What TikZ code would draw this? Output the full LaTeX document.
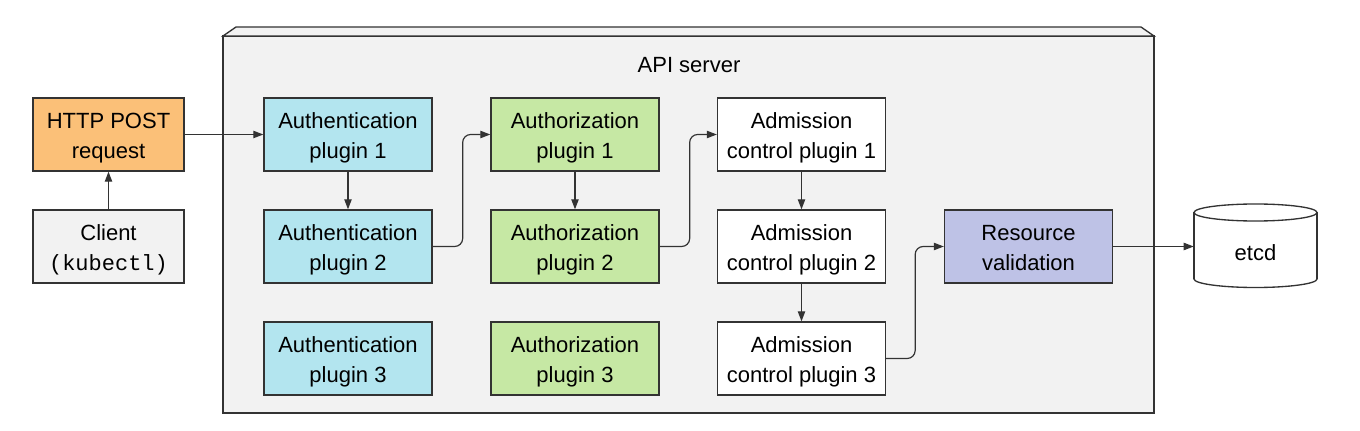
\documentclass[tikz,border=0pt]{standalone}
\usepackage{fontspec}
\setmainfont{Liberation Sans}
\setmonofont{Liberation Mono}
\usepackage{xcolor}
\usepackage{tikz}
\usetikzlibrary{arrows.meta}

\definecolor{linegray}{RGB}{51,51,51}
\definecolor{servergray}{RGB}{242,242,242}
\definecolor{postorange}{RGB}{251,192,120}
\definecolor{authblue}{RGB}{179,229,239}
\definecolor{authzgreen}{RGB}{198,232,164}
\definecolor{validlilac}{RGB}{190,194,230}

\begin{document}
\begin{tikzpicture}[x=0.75pt,y=0.75pt,yscale=-1,
  plugin/.style={draw=linegray,line width=1pt,minimum width=126pt,minimum height=54.75pt,
    align=center,inner sep=0.75pt,text height=39pt,text depth=3.5pt,
    font=\fontsize{16.5}{22.5}\selectfont},
  flow/.style={draw=linegray,line width=0.9pt,-{Triangle[length=7.5pt,width=5.5pt]}},
  elbow/.style={flow,rounded corners=6pt}]
\useasboundingbox (0,0) rectangle (1360,431);

%Shape: API server box
\draw [draw=linegray,line width=1pt,fill=servergray] (223,36) rectangle (1154,413) ;
\draw [draw=linegray,line width=1pt,fill=servergray] (223,36) -- (236,27) -- (1141,27) -- (1154,36) -- cycle ;
% Text Node
\node (server) at (689,65) [font=\fontsize{16.5}{22.5}\selectfont] {API server};

% Client side
\node (post) at (108.5,134.5) [plugin,fill=postorange,minimum width=113.25pt] {HTTP POST\\request};
\node (client) at (108.5,246.5) [plugin,fill=servergray,minimum width=113.25pt] {Client\\\texttt{(kubectl)}};

% Authentication plugins
\node (authn1) at (348,134.5) [plugin,fill=authblue] {Authentication\\plugin 1};
\node (authn2) at (348,246.5) [plugin,fill=authblue] {Authentication\\plugin 2};
\node (authn3) at (348,358.5) [plugin,fill=authblue] {Authentication\\plugin 3};

% Authorization plugins
\node (authz1) at (575,134.5) [plugin,fill=authzgreen] {Authorization\\plugin 1};
\node (authz2) at (575,246.5) [plugin,fill=authzgreen] {Authorization\\plugin 2};
\node (authz3) at (575,358.5) [plugin,fill=authzgreen] {Authorization\\plugin 3};

% Admission control plugins
\node (admit1) at (801.5,134.5) [plugin,fill=white] {Admission\\control plugin 1};
\node (admit2) at (801.5,246.5) [plugin,fill=white] {Admission\\control plugin 2};
\node (admit3) at (801.5,358.5) [plugin,fill=white] {Admission\\control plugin 3};

% Resource validation
\node (valid) at (1028.5,246.5) [plugin,fill=validlilac] {Resource\\validation};

%Shape: etcd cylinder
\draw [draw=linegray,line width=1pt,fill=white] (1255.5,279) ellipse [x radius=61.5,y radius=8.5] ;
\fill [white] (1194,212.5) rectangle (1317,279) ;
\draw [draw=linegray,line width=1pt] (1194,212.5) -- (1194,279) ;
\draw [draw=linegray,line width=1pt] (1317,212.5) -- (1317,279) ;
\draw [draw=linegray,line width=1pt,fill=white] (1255.5,212.5) ellipse [x radius=61.5,y radius=8.5] ;
\node (etcd) at (1255.5,253) [minimum width=92.25pt,minimum height=56pt,inner sep=0pt,font=\fontsize{16.5}{22.5}\selectfont] {etcd};

% Connectors
\draw [flow] (client) -- (post) ;
\draw [flow] (post) -- (authn1) ;
\draw [flow] (authn1) -- (authn2) ;
\draw [elbow] (authn2.east) -- ++(30,0) |- (authz1.west) ;
\draw [flow] (authz1) -- (authz2) ;
\draw [elbow] (authz2.east) -- ++(30,0) |- (admit1.west) ;
\draw [flow] (admit1) -- (admit2) ;
\draw [flow] (admit2) -- (admit3) ;
\draw [elbow] (admit3.east) -- ++(29,0) |- (valid.west) ;
\draw [flow] (valid.east) -- (valid.east -| etcd.west) ;
\end{tikzpicture}
\end{document}
